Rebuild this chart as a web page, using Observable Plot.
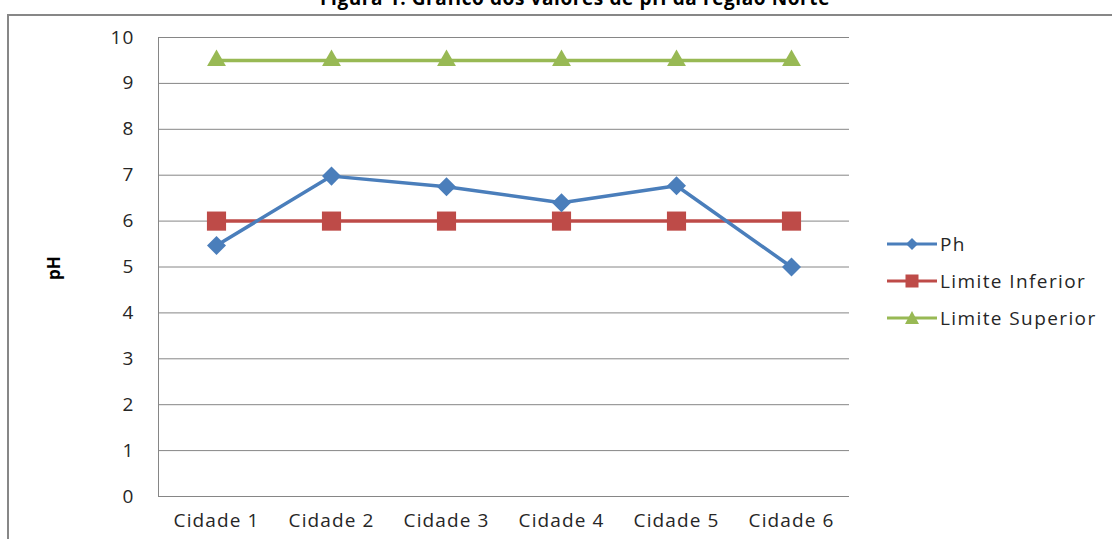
<!DOCTYPE html>
<html>
<head>
<meta charset="utf-8">
<script src="https://cdn.jsdelivr.net/npm/d3@7"></script>
<script src="https://cdn.jsdelivr.net/npm/@observablehq/plot@0.6"></script>
<style>
  html, body { margin: 0; padding: 0; background: #fff; }
  #wrap { position: relative; width: 1112px; height: 539px; overflow: hidden; font-family: "Open Sans", sans-serif; }
  #frame { position: absolute; left: 7px; top: 14px; width: 1200px; height: 700px; border: 2px solid #878787; box-sizing: border-box; }
  #title { position: absolute; left: 0; width: 1150px; top: -15px; text-align: center; font-weight: bold; font-size: 19px; letter-spacing: 0.6px; color: #000; white-space: nowrap; }
  #chart { position: absolute; left: 0; top: 0; }
  #ylabel { position: absolute; left: 53px; top: 268px; transform: translate(-50%, -50%) rotate(-90deg); font-weight: bold; font-size: 17px; color: #000; }
  #legend { position: absolute; left: 887px; top: 225px; }
  .row { display: flex; align-items: center; height: 37px; font-size: 19px; color: #262626; letter-spacing: 1.4px; }
  .row svg { margin-right: 3px; }
</style>
</head>
<body>
<div id="wrap">
  <div id="frame"></div>
  <div id="title">Figura 1: Gráfico dos valores de pH da região Norte</div>
  <div id="chart"></div>
  <div id="ylabel">pH</div>
  <div id="legend"></div>
</div>
<script>
const cities = ["Cidade 1", "Cidade 2", "Cidade 3", "Cidade 4", "Cidade 5", "Cidade 6"];
const phValues = [5.47, 6.98, 6.75, 6.4, 6.77, 5.0];
const limiteInferior = [6, 6, 6, 6, 6, 6];
const limiteSuperior = [9.5, 9.5, 9.5, 9.5, 9.5, 9.5];
const yTicks = [0, 1, 2, 3, 4, 5, 6, 7, 8, 9, 10];
const seriesNames = ["Ph", "Limite Inferior", "Limite Superior"];
const seriesColors = ["#4A7EBB", "#BE4B48", "#98B954"];

const rows = (vals) => cities.map((c, i) => ({city: c, value: vals[i]}));
const ph = rows(phValues), inf = rows(limiteInferior), sup = rows(limiteSuperior);

const chart = Plot.plot({
  width: 1112,
  height: 539,
  marginLeft: 158,
  marginRight: 263,
  marginTop: 37,
  marginBottom: 43,
  style: {fontFamily: "Open Sans, sans-serif", fontSize: "19px", letterSpacing: "1.1px", color: "#262626", background: "transparent", overflow: "visible"},
  x: {type: "point", domain: cities, padding: 0.5, label: null},
  y: {domain: [0, 10], label: null},
  marks: [
    Plot.gridY(yTicks, {stroke: "#868686", strokeOpacity: 1, strokeWidth: 1}),
    Plot.axisY(yTicks, {tickSize: 0, tickPadding: 24, fill: "#262626", fontSize: 19, label: null}),
    Plot.axisX({tickSize: 0, tickPadding: 17, fill: "#262626", fontSize: 19, label: null}),
    Plot.line(sup, {x: "city", y: "value", stroke: seriesColors[2], strokeWidth: 3.5}),
    Plot.dot(sup, {x: "city", y: "value", symbol: "triangle", r: 7, fill: seriesColors[2], stroke: "none"}),
    Plot.line(inf, {x: "city", y: "value", stroke: seriesColors[1], strokeWidth: 3.5}),
    Plot.dot(inf, {x: "city", y: "value", symbol: "square", r: 10.8, fill: seriesColors[1], stroke: "none"}),
    Plot.line(ph, {x: "city", y: "value", stroke: seriesColors[0], strokeWidth: 3.5}),
    Plot.dot(ph, {x: "city", y: "value", symbol: "square", rotate: 45, r: 7.6, fill: seriesColors[0], stroke: "none"})
  ]
});
document.getElementById("chart").appendChild(chart);
// left axis line along the plot's left edge
d3.select(chart).append("line").attr("x1", 158.5).attr("x2", 158.5).attr("y1", 37).attr("y2", 496).attr("stroke", "#868686");

// legend
const legend = document.getElementById("legend");
const shapes = [
  (c) => `<path d="M25,2 L31,8 L25,14 L19,8 Z" fill="${c}"/>`,
  (c) => `<rect x="18.5" y="1.5" width="13" height="13" fill="${c}"/>`,
  (c) => `<path d="M25,1 L32,14 L18,14 Z" fill="${c}"/>`
];
seriesNames.forEach((name, i) => {
  const row = document.createElement("div");
  row.className = "row";
  row.innerHTML = `<svg width="50" height="16"><line x1="0" x2="50" y1="8" y2="8" stroke="${seriesColors[i]}" stroke-width="3"/>${shapes[i](seriesColors[i])}</svg><span>${name}</span>`;
  legend.appendChild(row);
});
</script>
</body>
</html>
